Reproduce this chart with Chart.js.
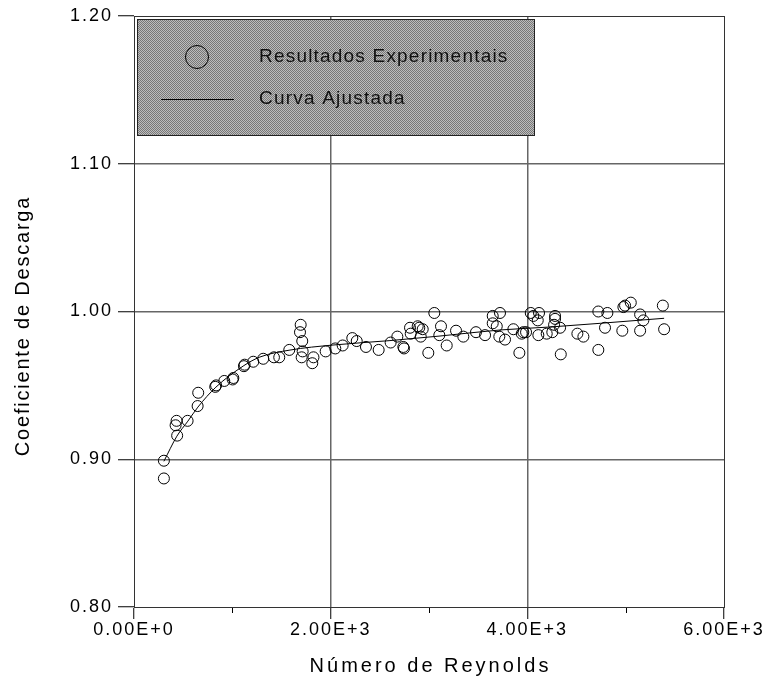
<!DOCTYPE html>
<html>
<head>
<meta charset="utf-8">
<script src="https://cdn.jsdelivr.net/npm/chart.js@4"></script>
<style>body{margin:0;background:#fff}</style>
</head>
<body>
<canvas id="chart" width="768" height="693"></canvas>
<script>
// experimental points (Reynolds, discharge coefficient)
const reynolds = [304, 304, 439, 433, 423, 545, 647, 653, 826, 835, 918, 1003, 1010,
  1118, 1125, 1213, 1314, 1423, 1477, 1579, 1695, 1688, 1711, 1715, 1705, 1813, 1825,
  1949, 2047, 2122, 2220, 2265, 2359, 2488, 2610, 2678, 2739, 2746, 2807, 2814, 2885,
  2901, 2936, 2916, 2993, 3054, 3122, 3105, 3180, 3275, 3349, 3478, 3570, 3648, 3648,
  3689, 3715, 3722, 3773, 3858, 3919, 3943, 3959, 3987, 4035, 4061, 4119, 4106, 4112,
  4197, 4254, 4282, 4282, 4272, 4333, 4340, 4509, 4570, 4722, 4722, 4814, 4790, 4966,
  4977, 4994, 5052, 5147, 5180, 5147, 5378, 5391];
const descarga = [0.899, 0.887, 0.916, 0.926, 0.923, 0.926, 0.936, 0.945, 0.949, 0.950, 0.953, 0.954, 0.955,
  0.963, 0.964, 0.966, 0.968, 0.969, 0.969, 0.974, 0.991, 0.986, 0.980, 0.973, 0.969, 0.965, 0.969,
  0.973, 0.975, 0.977, 0.982, 0.980, 0.976, 0.974, 0.979, 0.983, 0.976, 0.975, 0.989, 0.985, 0.990,
  0.989, 0.988, 0.983, 0.972, 0.999, 0.990, 0.984, 0.977, 0.987, 0.983, 0.986, 0.984, 0.997, 0.992,
  0.990, 0.983, 0.999, 0.981, 0.988, 0.972, 0.985, 0.986, 0.986, 0.999, 0.997, 0.999, 0.994, 0.984,
  0.985, 0.986, 0.995, 0.997, 0.991, 0.989, 0.971, 0.985, 0.983, 1.000, 0.974, 0.999, 0.989, 0.987,
  1.003, 1.004, 1.006, 0.998, 0.994, 0.987, 1.004, 0.988];

// fitted curve
const curveRe = [304, 436, 548, 650, 833, 1118, 1281, 1586, 2023, 2603, 3112, 3723, 4231, 4740, 5391];
const curveCd = [0.8986, 0.9156, 0.9258, 0.9353, 0.9488, 0.9634, 0.9692, 0.9739, 0.9773, 0.9803, 0.9834, 0.9875, 0.9895, 0.992, 0.9954];

const xTicks = [0, 2000, 4000, 6000];
const xTickLabels = ['0.00E+0', '2.00E+3', '4.00E+3', '6.00E+3'];
const xMinorTicks = [1000, 3000, 5000];
const yTicks = [0.8, 0.9, 1.0, 1.1, 1.2];
const yTickLabels = ['0.80', '0.90', '1.00', '1.10', '1.20'];
const legendLabels = ['Resultados Experimentais', 'Curva Ajustada'];
const xTitle = 'Número de Reynolds';
const yTitle = 'Coeficiente de Descarga';

const FONT = 'Liberation Sans, Arial, sans-serif';

// dotted grey fill for the legend box
const pat = document.createElement('canvas');
pat.width = 2; pat.height = 2;
const pc = pat.getContext('2d');
pc.fillStyle = '#bdbdbd'; pc.fillRect(0, 0, 2, 2);
pc.fillStyle = '#777'; pc.fillRect(0, 0, 1, 1); pc.fillRect(1, 1, 1, 1);

const extras = {
  id: 'extras',
  beforeDraw(chart) {
    chart.ctx.letterSpacing = '2px';
  },
  afterDraw(chart) {
    const ctx = chart.ctx;
    const a = chart.chartArea;
    const x = chart.scales.x;
    ctx.save();
    ctx.strokeStyle = '#000';
    ctx.lineWidth = 1;
    // minor ticks
    ctx.beginPath();
    xMinorTicks.forEach(v => {
      const px = Math.round(x.getPixelForValue(v)) + 0.5;
      ctx.moveTo(px, a.bottom);
      ctx.lineTo(px, a.bottom + 6);
    });
    ctx.stroke();
    // frame
    ctx.strokeStyle = '#333';
    ctx.strokeRect(a.left + 0.5, a.top + 0.5, a.right - a.left, a.bottom - a.top);
    // axis titles
    ctx.fillStyle = '#000';
    ctx.font = '20px ' + FONT;
    ctx.textAlign = 'center';
    ctx.textBaseline = 'middle';
    ctx.letterSpacing = '3px';
    ctx.fillText(xTitle, (a.left + a.right) / 2 + 1.5, 666);
    ctx.save();
    ctx.translate(23, 326);
    ctx.rotate(-Math.PI / 2);
    ctx.letterSpacing = '1.8px';
    ctx.fillText(yTitle, 0, 0);
    ctx.restore();
    // legend box
    const bx = 137, by = 19, bw = 397, bh = 116;
    ctx.fillStyle = ctx.createPattern(pat, 'repeat');
    ctx.fillRect(bx, by, bw, bh);
    ctx.strokeStyle = '#222';
    ctx.strokeRect(bx + 0.5, by + 0.5, bw, bh);
    ctx.strokeStyle = '#000';
    ctx.beginPath();
    ctx.arc(197, 57, 11.5, 0, Math.PI * 2);
    ctx.stroke();
    ctx.beginPath();
    ctx.moveTo(161, 99.5);
    ctx.lineTo(234, 99.5);
    ctx.stroke();
    ctx.fillStyle = '#111';
    ctx.font = '19px ' + FONT;
    ctx.letterSpacing = '1.2px';
    ctx.textAlign = 'left';
    ctx.fillText(legendLabels[0], 259, 57);
    ctx.fillText(legendLabels[1], 259, 99);
    ctx.restore();
    ctx.letterSpacing = '0px';
  }
};

new Chart(document.getElementById('chart'), {
  type: 'scatter',
  data: {
    datasets: [{
      label: legendLabels[0],
      data: reynolds.map((r, i) => ({ x: r, y: descarga[i] })),
      pointStyle: 'circle',
      pointRadius: 5.5,
      borderWidth: 1,
      borderColor: '#000',
      backgroundColor: 'rgba(0,0,0,0)'
    }, {
      label: legendLabels[1],
      data: curveRe.map((r, i) => ({ x: r, y: curveCd[i] })),
      showLine: true,
      pointRadius: 0,
      borderWidth: 1,
      borderColor: '#000',
      cubicInterpolationMode: 'monotone'
    }]
  },
  options: {
    responsive: false,
    animation: false,
    layout: { padding: { top: 16, right: 44, left: 0, bottom: 0 } },
    plugins: { legend: { display: false }, tooltip: { enabled: false } },
    scales: {
      x: {
        type: 'linear', min: 0, max: 6000,
        afterBuildTicks: s => { s.ticks = xTicks.map(v => ({ value: v })); },
        afterFit: s => { s.height = 86; },
        ticks: {
          color: '#000', padding: 0, maxRotation: 0,
          font: { family: FONT, size: 18 },
          callback: (v, i) => xTickLabels[i]
        },
        grid: {
          color: c => (c.tick && (c.tick.value === 2000 || c.tick.value === 4000)) ? '#666' : 'rgba(0,0,0,0)',
          lineWidth: 1.5, tickColor: '#000', tickLength: 12, tickWidth: 1
        },
        border: { display: true, color: '#000', width: 1 }
      },
      y: {
        type: 'linear', min: 0.8, max: 1.2,
        afterBuildTicks: s => { s.ticks = yTicks.map(v => ({ value: v })); },
        afterFit: s => { s.width = 134; },
        ticks: {
          color: '#000', padding: 5,
          font: { family: FONT, size: 18 },
          callback: (v, i) => yTickLabels[i]
        },
        grid: {
          color: c => (c.tick && c.tick.value > 0.85 && c.tick.value < 1.15) ? '#666' : 'rgba(0,0,0,0)',
          lineWidth: 1.5, tickColor: '#000', tickLength: 16, tickWidth: 1
        },
        border: { display: true, color: '#000', width: 1 }
      }
    }
  },
  plugins: [extras]
});
</script>
</body>
</html>
